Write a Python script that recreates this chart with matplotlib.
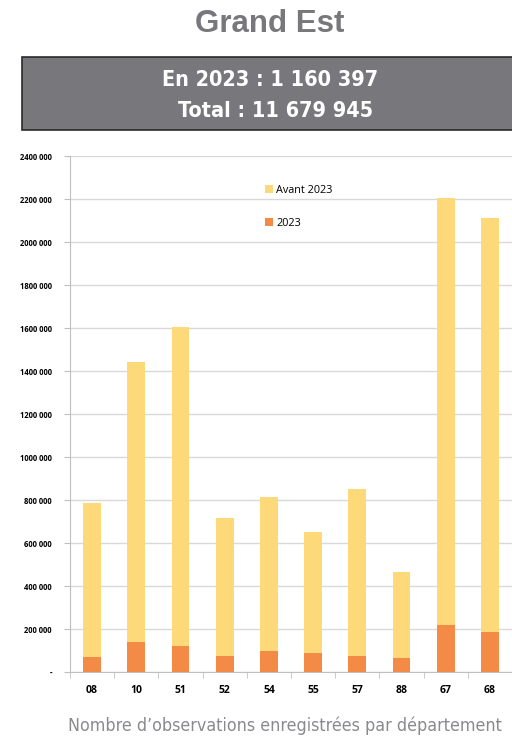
import matplotlib
matplotlib.use('Agg')
import matplotlib.pyplot as plt
import numpy as np
from matplotlib.patches import Rectangle
from matplotlib.ticker import FuncFormatter, FixedLocator

# departements and observation counts
departements = ['08', '10', '51', '52', '54', '55', '57', '88', '67', '68']
total = [789000, 1443000, 1606000, 716000, 817000, 654000, 851000, 465000, 2205000, 2114000]
obs_2023 = [70000, 142000, 122000, 77000, 100000, 88000, 76000, 68000, 219000, 186000]
avant_2023 = [t - o for t, o in zip(total, obs_2023)]

YELLOW = '#FDD97A'
ORANGE = '#F38A45'
GREY = '#77777C'

W, H = 512, 739
fig = plt.figure(figsize=(W / 100, H / 100), dpi=100)

# title
fig.text(270 / W, 1 - 24 / H, 'Grand Est', ha='center', va='center',
         fontsize=22.5, fontweight='bold', color=GREY, family=['Liberation Sans', 'DejaVu Sans'])

# grey header box
fig.patches.append(Rectangle((22 / W, 1 - 130 / H), 1.0, 73 / H, transform=fig.transFigure,
                             facecolor=GREY, edgecolor='#2a2a2a', lw=1.2))
fig.text(270 / W, 1 - 80 / H, 'En 2023 : 1 160 397', ha='center', va='center',
         fontsize=15.5, fontweight='bold', color='white', family='DejaVu Sans', fontstretch='condensed')
fig.text(275.5 / W, 1 - 111 / H, 'Total : 11 679 945', ha='center', va='center',
         fontsize=15.5, fontweight='bold', color='white', family='DejaVu Sans', fontstretch='condensed')

# chart
ax = fig.add_axes([70 / W, (H - 672.3) / H, 442 / W, 516 / H])
x = np.arange(len(departements))
ax.bar(x, obs_2023, width=0.4, color=ORANGE, label='2023', zorder=3)
ax.bar(x, avant_2023, width=0.4, bottom=obs_2023, color=YELLOW, label='Avant 2023', zorder=3)

ax.set_xlim(-0.5, len(departements) - 0.5)
ax.set_ylim(0, 2400000)
ax.set_yticks(np.arange(0, 2400001, 200000))

def fmt(v, pos):
    if v == 0:
        return '-'
    s = f'{int(v):,}'.replace(',', ' ')
    if v >= 1000000:
        s = s.replace(' ', '', 1)
    return s

ax.yaxis.set_major_formatter(FuncFormatter(fmt))
ax.grid(axis='y', color='#D9D9D9', lw=1, zorder=0)
ax.set_axisbelow(True)

ax.set_xticks(x)
ax.set_xticklabels(departements, fontsize=7.5, fontweight='bold', family=['Open Sans', 'DejaVu Sans'])
ax.tick_params(axis='x', length=0, pad=9)
ax.xaxis.set_minor_locator(FixedLocator(np.arange(-0.5, len(departements), 1.0)))
ax.tick_params(axis='x', which='minor', length=4, color='#BFBFBF')
for lab in ax.get_yticklabels():
    lab.set_fontsize(5.5)
    lab.set_fontweight('bold')
    lab.set_family(['Open Sans', 'DejaVu Sans'])
ax.tick_params(axis='y', length=4, color='#BFBFBF', pad=9)

for side in ['top', 'right']:
    ax.spines[side].set_visible(False)
ax.spines['left'].set_color('#BFBFBF')
ax.spines['bottom'].set_color('#BFBFBF')

h, l = ax.get_legend_handles_labels()
ax.legend(h[::-1], l[::-1], loc='upper left', bbox_to_anchor=(0.43, 0.955), frameon=False,
          handlelength=0.7, handleheight=0.7, handletextpad=0.3, labelspacing=2.0,
          borderpad=0, prop={'family': ['Open Sans', 'DejaVu Sans'], 'size': 7.8})

# caption
fig.text(68 / W, 1 - 726 / H, 'Nombre d\u2019observations enregistrées par département',
         ha='left', va='center', fontsize=12.8, color='#8a8a8e', family='DejaVu Sans',
         fontstretch='condensed')

fig.savefig('out.png', dpi=100)
